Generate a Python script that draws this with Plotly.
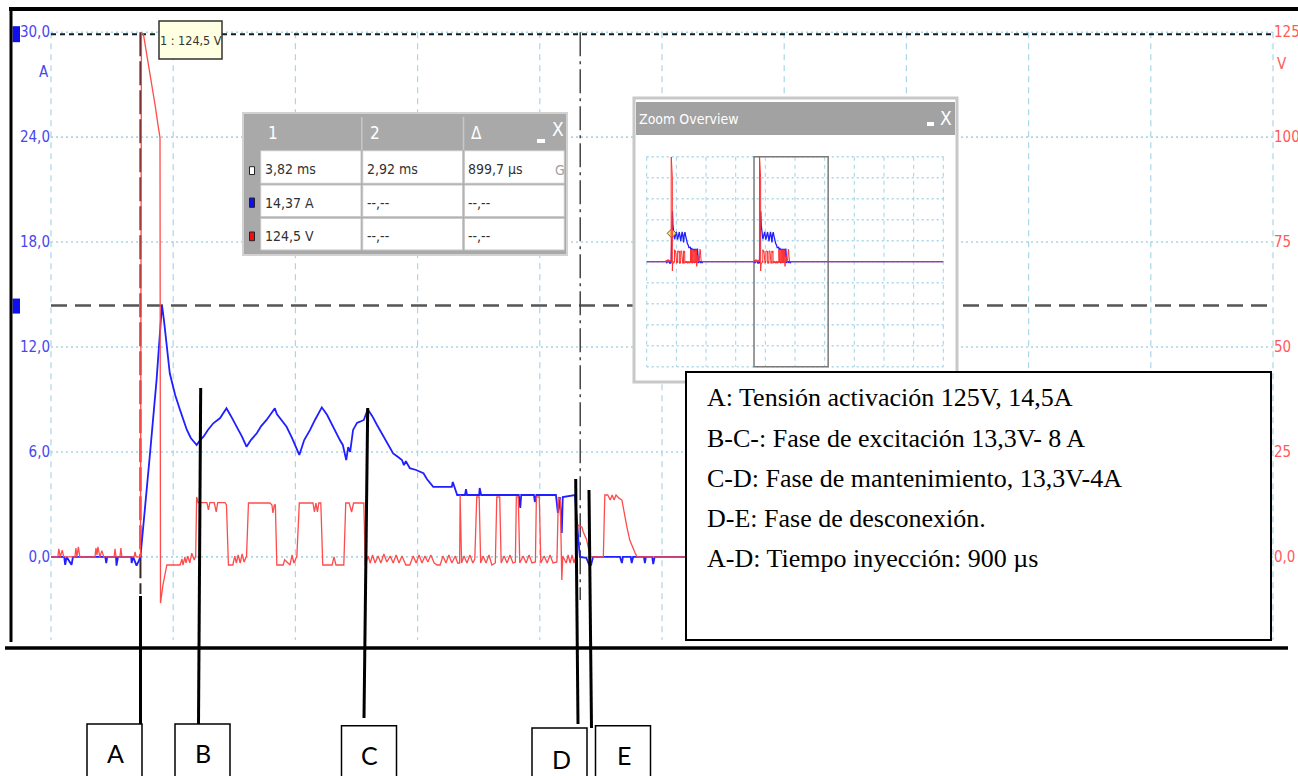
import plotly.graph_objects as go

W, H = 1298, 776

# ------------------------------------------------------------------ data
# Current channel (A) - blue, time in ms
BLUE_T = [2.737, 2.755, 2.764, 2.766, 2.769, 2.779, 2.782, 2.848, 2.850, 2.852,
          2.870, 2.871, 2.874, 2.901, 2.902, 2.905, 2.912, 2.917, 2.920,
          2.940, 2.953, 2.964, 2.968, 2.980, 2.991, 3.001, 3.015, 3.023, 3.035,
          3.042, 3.049, 3.058, 3.069, 3.083, 3.096, 3.105, 3.117, 3.128, 3.137,
          3.146, 3.158, 3.167, 3.178, 3.189, 3.195, 3.199, 3.208, 3.219, 3.230,
          3.245, 3.255, 3.267, 3.277, 3.291, 3.302, 3.315, 3.328, 3.334, 3.341,
          3.345, 3.349, 3.355, 3.363, 3.369, 3.377, 3.385, 3.394, 3.404, 3.417,
          3.426, 3.437, 3.447, 3.455, 3.459, 3.463, 3.471, 3.484, 3.499, 3.506,
          3.519, 3.557, 3.559, 3.564, 3.568, 3.584, 3.586, 3.588, 3.613, 3.614,
          3.617, 3.694, 3.697, 3.699, 3.725, 3.727, 3.730, 3.770, 3.774, 3.778,
          3.782, 3.784, 3.809, 3.816, 3.819, 3.832, 3.838, 3.842, 3.846, 3.901,
          3.905, 3.907, 3.923, 3.925, 3.928, 3.950, 3.952, 3.954, 3.967, 3.969,
          3.972, 4.200]
BLUE_A = [0, 0, 0, -0.45, 0, -0.45, 0, 0, -0.35, 0,
          0, -0.5, 0, 0, -0.35, 0, -0.5, -0.2, 0,
          6.05, 10.12, 14.40, 13.55, 10.50, 9.26, 8.40, 7.26, 6.80, 6.40,
          6.68, 6.87, 7.26, 7.64, 7.94, 8.50, 8.06, 7.44, 6.86, 6.30,
          6.68, 7.07, 7.48, 7.83, 8.28, 8.50, 8.17, 7.83, 7.44, 6.80,
          5.83, 6.68, 7.26, 7.83, 8.55, 8.11, 7.35, 6.68, 6.40, 5.54,
          6.28, 6.00, 7.26, 7.66, 7.73, 7.83, 8.44, 8.06, 7.54, 6.87,
          6.46, 5.92, 5.71, 5.54, 5.25, 5.48, 5.07, 4.97, 4.78, 4.45,
          4.01, 4.00, 4.28, 3.83, 3.54, 3.54, 3.88, 3.54, 3.54, 3.94,
          3.54, 3.54, 2.80, 3.54, 3.54, 3.14, 3.54, 3.54, 2.51, 3.42,
          1.37, 3.42, 3.54, 0.97, 0.0, -0.05, -0.46, -0.46, 0, 0,
          -0.35, 0, 0, -0.35, 0, 0, -0.35, 0, 0, -0.41,
          0, 0]

# Voltage channel (V) - red, time in ms
RED_T = [2.737, 2.751, 2.753, 2.756, 2.760, 2.763, 2.786, 2.788, 2.790, 2.793,
         2.796, 2.827, 2.829, 2.831, 2.833, 2.837, 2.841, 2.845, 2.866, 2.868,
         2.870, 2.878, 2.880, 2.882, 2.907, 2.909, 2.911, 2.920, 2.922, 2.926,
         2.933, 2.942, 2.950, 2.956, 2.960, 2.961, 2.966, 2.974, 3.001, 3.005,
         3.007, 3.011, 3.013, 3.017, 3.021, 3.025, 3.030, 3.033, 3.035, 3.038,
         3.056, 3.059, 3.062, 3.071, 3.075, 3.078, 3.093, 3.096, 3.100, 3.109,
         3.113, 3.116, 3.120, 3.124, 3.128, 3.132, 3.137, 3.141, 3.185, 3.189,
         3.191, 3.194, 3.196, 3.199, 3.212, 3.215, 3.226, 3.230, 3.234, 3.240,
         3.245, 3.273, 3.276, 3.279, 3.282, 3.285, 3.289, 3.293, 3.312, 3.316,
         3.320, 3.336, 3.340, 3.347, 3.352, 3.356, 3.377, 3.380, 3.386, 3.390,
         3.395, 3.400, 3.406, 3.412, 3.418, 3.424, 3.431, 3.437, 3.443, 3.449,
         3.455, 3.463, 3.471, 3.478, 3.484, 3.490, 3.496, 3.502, 3.508, 3.514,
         3.521, 3.527, 3.533, 3.539, 3.545, 3.551, 3.557, 3.564, 3.569, 3.573,
         3.574, 3.577, 3.582, 3.588, 3.594, 3.600, 3.604, 3.608, 3.613, 3.616,
         3.621, 3.627, 3.633, 3.639, 3.646, 3.649, 3.655, 3.658, 3.664, 3.670,
         3.676, 3.682, 3.687, 3.689, 3.693, 3.696, 3.703, 3.709, 3.715, 3.721,
         3.728, 3.730, 3.736, 3.739, 3.746, 3.752, 3.758, 3.764, 3.772, 3.775,
         3.779, 3.782, 3.784, 3.791, 3.795, 3.799, 3.803, 3.807, 3.811, 3.815,
         3.823, 3.826, 3.833, 3.840, 3.867, 3.870, 3.876, 3.881, 3.885, 3.889,
         3.893, 3.899, 3.905, 3.915, 3.921, 3.932, 3.936, 4.200]
RED_V = [0, 0, 1.9, 0, 1.6, 0, 0, 2.1, 0, 2.4,
         0, 0, 2.1, 0.5, 2.4, 0, 1.5, 0, 0, 1.9,
         0, 0, 2.1, 0, 0, 1.2, 0, 0, 124.8, 124.6,
         119.6, 113.6, 107.6, 102.8, 99.9, -11.0, -6.7, -1.93, -1.93, -0.5,
         -1.93, 0, -1.45, 0.2, -1.45, 0.9, -0.74, 0.2, 14.27, 12.91,
         12.91, 11.2, 12.91, 12.91, 10.7, 12.91, 12.91, 12.36, -1.93, -1.93,
         0.2, -1.45, 0.45, -1.45, 0.69, -1.21, 0.2, 12.84, 12.84, 12.36,
         10.46, 12.36, 12.36, -1.93, -1.93, -0.7, -1.93, 0.45, -1.45, 0.2,
         12.84, 12.84, 10.7, 12.84, 10.7, 12.84, 12.84, -1.93, -1.93, 0,
         -1.93, -1.93, 12.84, 12.84, 10.7, 12.84, 12.84, -1.93, 0.2, -1.45,
         0.45, -1.45, 0.2, -1.45, 0.69, -1.21, 0.2, -1.45, 0.45, -1.45,
         0.2, -1.93, -1.93, 0.2, -1.45, 0.45, -1.45, 0.2, -1.21, 0.45,
         -1.45, -1.93, -1.93, 0.2, -1.45, 0.45, -1.45, 0.2, -1.45, -1.45,
         14.75, -1.45, 0.2, -1.45, 0.45, -1.45, -0.5, 14.27, 14.27, -1.45,
         0.2, -1.45, 0.45, -1.93, -1.45, 14.27, 14.27, -1.45, 0.2, -1.45,
         0.45, -1.45, -1.21, 14.27, 14.27, -1.45, 0.2, -1.45, 0.45, -1.45,
         -1.21, 14.27, 14.27, -1.45, 0.2, -1.45, 0.45, -1.45, -1.21, 14.27,
         13.55, -5.48, 0.2, -1.45, 0.45, -1.45, 0.45, -1.45, 0.2, 7.60,
         7.12, 5.93, 4.02, 0, 0, 14.75, 14.75, 13.55, 14.75, 13.55,
         14.75, 14.0, 13.55, 7.19, 4.02, 0.93, 0, 0]

# axes
T_RANGE = [2.737, 5.237]          # ms, 0.25 ms / div
T_DIV = 0.25
A_RANGE = [-4.751, 30.068]        # A
V_PER_A = 125 / 30
V_RANGE = [A_RANGE[0] * V_PER_A, A_RANGE[1] * V_PER_A]
A_TICKS = [0, 6, 12, 18, 24, 30]
A_TICKTEXT = ["0,0", "6,0", "12,0", "18,0", "24,0", "30,0"]
V_TICKS = [0, 25, 50, 75, 100, 125]
V_TICKTEXT = ["0,0", "25", "50", "75", "100", "125"]

# cursors
CURSOR_T = [3.82, 2.92]            # ms (cursor 1, cursor 2)
CURSOR_DT_US = 899.7
CURSOR_I = 14.37
CURSOR_V = 124.5

# zoom overview
OV_T_RANGE = [-0.881, 9.119]      # ms, 1 ms / div
OV_A_RANGE = [-30, 30]
OV_V_RANGE = [-125, 125]
OV_PREV_PULSE_SHIFT = 2.977       # ms between the two injections
OV_MARK_T = [-0.038]
OV_MARK_A = [8.1]

TABLE_HEAD = ["1", "2", "Δ"]
TABLE_ROWS = [["3,82 ms", "2,92 ms", "899,7 µs"],
              ["14,37 A", "--,--", "--,--"],
              ["124,5 V", "--,--", "--,--"]]

NOTE_LINES = ["A: Tensión activación 125V, 14,5A",
              "B-C-: Fase de excitación 13,3V- 8 A",
              "C-D: Fase de mantenimiento, 13,3V-4A",
              "D-E: Fase de desconexión.",
              "A-D: Tiempo inyección: 900 µs"]
MARKERS = ["A", "B", "C", "D", "E"]

# ------------------------------------------------------------------ geometry helpers
X_PX = (51, 1273)
Y_PX = (640, 31)
OV_X_PX = (646.7, 943.3)
OV_Y_PX = (366.7, 156.7)

NARROW = "DejaVu Sans Condensed, Liberation Sans Narrow, Arial Narrow, Liberation Sans, sans-serif"
SERIF = "Liberation Serif, Times New Roman, DejaVu Serif, serif"
SANS = "Lato, Liberation Sans, Arial, sans-serif"

GRID = "#a9d6e8"
BLUE_TXT = "#4747f0"
RED_TXT = "#ff5a5a"


def tx(t):
    return X_PX[0] + (t - T_RANGE[0]) / (T_RANGE[1] - T_RANGE[0]) * (X_PX[1] - X_PX[0])


def ay(a):
    return Y_PX[0] - (a - A_RANGE[0]) / (A_RANGE[1] - A_RANGE[0]) * (Y_PX[0] - Y_PX[1])


def otx(t):
    return OV_X_PX[0] + (t - OV_T_RANGE[0]) / (OV_T_RANGE[1] - OV_T_RANGE[0]) * (OV_X_PX[1] - OV_X_PX[0])


shapes = []
annotations = []


def seg(x0, y0, x1, y1, color, width, dash="solid", layer="below"):
    shapes.append(dict(type="line", xref="paper", yref="paper",
                       x0=x0 / W, y0=1 - y0 / H, x1=x1 / W, y1=1 - y1 / H,
                       line=dict(color=color, width=width, dash=dash), layer=layer))


def box(x0, y0, x1, y1, fill, line=None, width=0, layer="below"):
    shapes.append(dict(type="rect", xref="paper", yref="paper",
                       x0=x0 / W, y0=1 - y1 / H, x1=x1 / W, y1=1 - y0 / H,
                       fillcolor=fill, line=dict(color=line or fill, width=width), layer=layer))


def label(x, y, text, size, color, family, xanchor="center", yanchor="middle"):
    annotations.append(dict(xref="paper", yref="paper", x=x / W, y=1 - y / H, text=text,
                            showarrow=False, font=dict(size=size, color=color, family=family),
                            xanchor=xanchor, yanchor=yanchor, borderpad=0))


# ------------------------------------------------------------------ main grid
k = 0
while T_RANGE[0] + k * T_DIV <= T_RANGE[1] + 1e-9:
    x = tx(T_RANGE[0] + k * T_DIV)
    seg(x, ay(30), x, Y_PX[0], GRID, 1.2, "6px,5px")
    k += 1
for a in A_TICKS:
    seg(X_PX[0], ay(a), X_PX[1], ay(a), GRID, 1.6, "2px,3px")

# cursors
seg(X_PX[0], ay(CURSOR_V / V_PER_A), X_PX[1], ay(CURSOR_V / V_PER_A), "#1a1a1a", 2, "5px,4px")
seg(X_PX[0], ay(CURSOR_I), X_PX[1], ay(CURSOR_I), "#555555", 2.5, "16px,8px")
seg(tx(CURSOR_T[1]), ay(30), tx(CURSOR_T[1]), 594, "#3a2424", 2, "24px,5px")
seg(tx(CURSOR_T[1] + CURSOR_DT_US / 1000), ay(30), tx(CURSOR_T[1] + CURSOR_DT_US / 1000), 600,
    "#444444", 1.5, "24px,5px,3px,5px")

# cursor handles
box(12.5, ay(30) - 6, 20, ay(30) + 10, "#1010ee")
box(12.5, ay(CURSOR_I) - 7, 20, ay(CURSOR_I) + 8, "#1010ee")

# tooltip
box(159, 21, 222, 59, "#ffffe1", "#333333", 1.5)
label(190.5, 40, "1 : " + TABLE_ROWS[2][0], 12.5, "#333333", NARROW)

# ------------------------------------------------------------------ cursor table
box(243, 113, 567, 255, "#a9a9a9", "#d2d2d2", 2)
col_x = [(260.7, 361), (362.7, 462.7), (464.3, 564.3)]
row_y = [(150.7, 183.3), (185, 216.7), (218.3, 250)]
seg(361.8, 117, 361.8, 150, "#c8c8c8", 1.5)
seg(463.5, 117, 463.5, 150, "#c8c8c8", 1.5)
for (r0, r1) in row_y:
    for (c0, c1) in col_x:
        box(c0, r0, c1, r1, "#ffffff", "#c4c4c4", 1)
sq_y = [(166.7, 174.5), (198, 207.3), (232, 240.7)]
sq_col = ["#ffffff", "#1010ee", "#ee1010"]
for (s0, s1), c in zip(sq_y, sq_col):
    box(249.5, s0, 254.5, s1, c, "#222222", 1)
for (c0, c1), h in zip(col_x, TABLE_HEAD):
    label(c0 + 6, 133, h, 17, "#ffffff", NARROW, xanchor="left")
box(537, 139, 545, 143, "#ffffff")
label(558, 129, "X", 19, "#ffffff", NARROW)
for (r0, r1), row in zip(row_y, TABLE_ROWS):
    for (c0, c1), txt in zip(col_x, row):
        label(c0 + 3, (r0 + r1) / 2 + 2, txt, 14, "#303030", NARROW, xanchor="left")
label(560, 170, "G", 14, "#a0a0a0", NARROW)

# ------------------------------------------------------------------ zoom overview window
box(634, 98, 957, 382, "#ffffff", "#c8c8c8", 3)
box(636, 102, 955, 135, "#a2a2a2")
label(638, 119, "Zoom Overview", 14, "#ffffff", NARROW, xanchor="left")
box(927, 122, 934, 126, "#ffffff")
label(946, 118, "X", 19, "#ffffff", NARROW)
for i in range(11):
    x = otx(OV_T_RANGE[0] + i)
    seg(x, OV_Y_PX[1], x, OV_Y_PX[0], GRID, 1.1, "4px,4px")
    y = OV_Y_PX[1] + i * (OV_Y_PX[0] - OV_Y_PX[1]) / 10
    seg(OV_X_PX[0], y, OV_X_PX[1], y, GRID, 1.4, "2px,3px")
box(otx(T_RANGE[0]), OV_Y_PX[1], otx(T_RANGE[1]), OV_Y_PX[0], "rgba(0,0,0,0)", "#7a7a7a", 1.5)

# ------------------------------------------------------------------ frame (above traces)
seg(9, 9, 1298, 9, "#000000", 4, layer="above")
seg(11, 7, 11, 642, "#000000", 3, layer="above")
seg(5, 648, 1288, 648, "#000000", 3.5, layer="above")

# note box
box(686, 372, 1271, 640, "#ffffff", "#000000", 2, layer="above")
for i, line in enumerate(NOTE_LINES):
    label(706, 398 + 40 * i, line, 26, "#000000", SERIF, xanchor="left")

# letter boxes + pointer lines
LETTER_BOX = [(87, 724), (175, 724), (341.5, 725.7), (532, 728), (595.5, 725.7)]
LETTER_POS = [(116, 753), (203, 753), (369.6, 755), (561.6, 759), (623.7, 755)]
POINTERS = [(140.5, 596, 140.5, 724), (200.7, 388, 198.5, 724), (367.7, 408, 364, 718),
            (575.7, 479, 578, 724), (589, 490, 591.5, 728)]
for (bx, by), (lx, ly), (x0, y0, x1, y1), m in zip(LETTER_BOX, LETTER_POS, POINTERS, MARKERS):
    box(bx, by, bx + 55, 790, "#ffffff", "#000000", 1.5, layer="above")
    seg(x0, y0, x1, y1, "#000000", 3, layer="above")
    label(lx, ly, m, 25, "#000000", SANS)

# axis unit labels
label(44, 72, "A", 15, BLUE_TXT, NARROW)
label(1276, 64, "V", 15, RED_TXT, NARROW, xanchor="left")

# ------------------------------------------------------------------ traces
fig = go.Figure()
fig.add_trace(go.Scatter(x=RED_T, y=RED_V, xaxis="x", yaxis="y2", mode="lines",
                         line=dict(color="#ff4b4b", width=1.3), hoverinfo="skip"))
fig.add_trace(go.Scatter(x=BLUE_T, y=BLUE_A, xaxis="x", yaxis="y", mode="lines",
                         line=dict(color="#1f1fff", width=1.8), hoverinfo="skip"))

ov_t = [OV_T_RANGE[0]] + [t - OV_PREV_PULSE_SHIFT for t in BLUE_T] + BLUE_T + [OV_T_RANGE[1]]
ov_a = [0] + BLUE_A + BLUE_A + [0]
ov_tr = [OV_T_RANGE[0]] + [t - OV_PREV_PULSE_SHIFT for t in RED_T] + RED_T + [OV_T_RANGE[1]]
ov_v = [0] + RED_V + RED_V + [0]
fig.add_trace(go.Scatter(x=ov_tr, y=ov_v, xaxis="x3", yaxis="y4", mode="lines",
                         line=dict(color="#ff3030", width=1.0), hoverinfo="skip"))
fig.add_trace(go.Scatter(x=ov_t, y=ov_a, xaxis="x3", yaxis="y3", mode="lines",
                         line=dict(color="#1f1fff", width=1.3), hoverinfo="skip"))
fig.add_trace(go.Scatter(x=OV_MARK_T, y=OV_MARK_A, xaxis="x3", yaxis="y3", mode="markers",
                         marker=dict(symbol="diamond", size=7, color="#f5e663",
                                     line=dict(color="#666633", width=1)), hoverinfo="skip"))

ax_off = dict(visible=False, showgrid=False, zeroline=False, automargin=False)
fig.update_layout(
    template="none",
    width=W, height=H, autosize=False,
    margin=dict(l=0, r=0, t=0, b=0, pad=0),
    paper_bgcolor="#ffffff", plot_bgcolor="rgba(0,0,0,0)",
    showlegend=False,
    font=dict(family=NARROW),
    xaxis=dict(domain=[X_PX[0] / W, X_PX[1] / W], range=T_RANGE, anchor="y", **ax_off),
    yaxis=dict(domain=[1 - Y_PX[0] / H, 1 - Y_PX[1] / H], range=A_RANGE, anchor="x",
               showgrid=False, zeroline=False, showline=False, ticks="", automargin=False,
               tickvals=A_TICKS, ticktext=A_TICKTEXT,
               tickfont=dict(size=15, color=BLUE_TXT, family=NARROW)),
    yaxis2=dict(overlaying="y", side="right", anchor="x", range=V_RANGE,
                showgrid=False, zeroline=False, showline=False, ticks="", automargin=False,
                tickvals=V_TICKS, ticktext=V_TICKTEXT,
                tickfont=dict(size=15, color=RED_TXT, family=NARROW)),
    xaxis3=dict(domain=[OV_X_PX[0] / W, OV_X_PX[1] / W], range=OV_T_RANGE, anchor="y3", **ax_off),
    yaxis3=dict(domain=[1 - OV_Y_PX[0] / H, 1 - OV_Y_PX[1] / H], range=OV_A_RANGE, anchor="x3", **ax_off),
    yaxis4=dict(overlaying="y3", range=OV_V_RANGE, anchor="x3", **ax_off),
    shapes=shapes,
    annotations=annotations,
)

fig.write_html("out.html")
